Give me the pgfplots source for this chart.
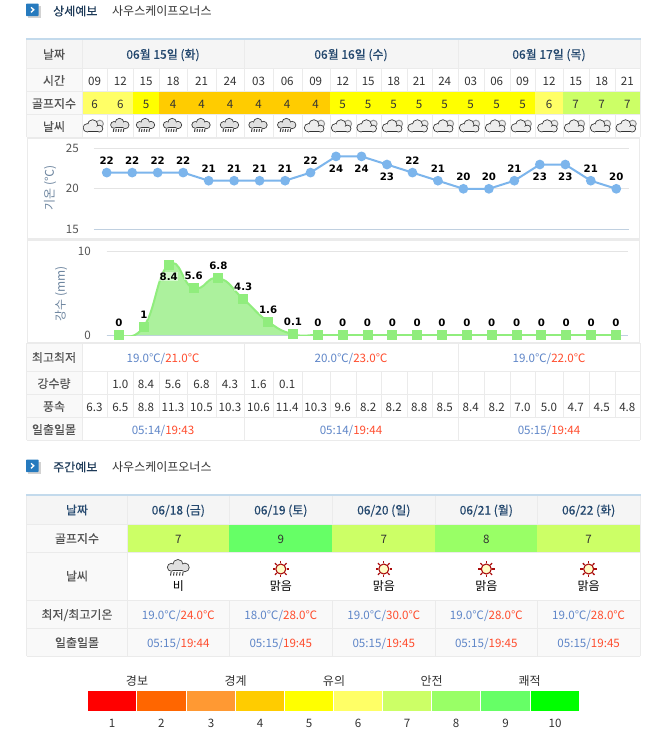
\documentclass[border=0pt]{standalone}
\usepackage{fontspec}
\usepackage{pgfplots}
\usepackage{pgfplotstable}
\pgfplotsset{compat=1.18}
\setmainfont{Noto Sans CJK KR}
\newfontfamily\semi[FakeBold=0.35]{Noto Sans CJK KR}
\newfontfamily\lab[BoldFont={DejaVu Sans Bold}]{DejaVu Sans}
\definecolor{g1}{HTML}{FF0000}\definecolor{g2}{HTML}{FF6600}\definecolor{g3}{HTML}{FF9933}
\definecolor{g4}{HTML}{FFCC00}\definecolor{g5}{HTML}{FFFF00}\definecolor{g6}{HTML}{FFFF66}
\definecolor{g7}{HTML}{CCFF66}\definecolor{g8}{HTML}{99FF66}\definecolor{g9}{HTML}{66FF66}
\definecolor{g10}{HTML}{00FF00}
\definecolor{bd}{HTML}{EBEBEB}\definecolor{hd}{HTML}{F5F5F5}\definecolor{hd2}{HTML}{F9F9F9}
\definecolor{txt}{HTML}{333333}\definecolor{lbl}{HTML}{555555}\definecolor{navy}{HTML}{24486E}
\definecolor{lo}{HTML}{5F86C8}\definecolor{hi}{HTML}{FF4D2E}\definecolor{topb}{HTML}{C3DAEC}
\definecolor{axl}{HTML}{C0D0E0}\definecolor{grd}{HTML}{E4E4E4}\definecolor{ylb}{HTML}{6E86A0}
\definecolor{ln1}{HTML}{7CB5EC}\definecolor{ln2}{HTML}{90ED7D}\definecolor{ar2}{HTML}{ACF19D}
\newcommand\fh{\fontsize{12}{14}\selectfont}
\newcommand\fn{\fontsize{11.6}{14}\selectfont}
\newcommand\tw[2]{{\color{lo}#1/}{\color{hi}#2}}
\pgfplotstableread{
x y lab sh
0 22 22 12
1 22 22 12
2 22 22 12
3 22 22 12
4 21 21 12
5 21 21 12
6 21 21 12
7 21 21 12
8 22 22 12
9 24 24 -12
10 24 24 -12
11 23 23 -12
12 22 22 12
13 21 21 12
14 20 20 12
15 20 20 12
16 21 21 12
17 23 23 -12
18 23 23 -12
19 21 21 12
20 20 20 12
}\temptab
\pgfplotstableread{
x y lab sh
0 0 0 12
1 1 1 12
2 8.4 8.4 -12
3 5.6 5.6 12
4 6.8 6.8 12
5 4.3 4.3 12
6 1.6 1.6 12
7 0.1 0.1 12
8 0 0 12
9 0 0 12
10 0 0 12
11 0 0 12
12 0 0 12
13 0 0 12
14 0 0 12
15 0 0 12
16 0 0 12
17 0 0 12
18 0 0 12
19 0 0 12
20 0 0 12
}\raintab
\newcommand\cloudblob[3]{%
  \foreach \p/\q/\rr in {#1}{\draw[#2,line width=1.6pt] (\p,\q) circle (\rr);}%
  \foreach \p/\q/\rr in {#1}{\fill[#3] (\p,\q) circle (\rr);}%
}
\newcommand\cloudsun[2]{\begin{scope}[shift={({#1},{#2})}]
  \draw[gray!80,fill=gray!15,line width=1pt] (6.3,-2.2) circle (3.6);
  \draw[black!80,line width=1.6pt,line cap=round] (-6,5.6)--(5.5,5.6);
  \cloudblob{-6.2/1.8/3.7,-0.8/-1.2/4.6,5.8/2.6/3}{black!80}{white!93!black}
  \fill[white!93!black] (-6.2,1)rectangle(5.8,5.3);
\end{scope}}
\newcommand\cloudrain[3][1]{\begin{scope}[shift={({#2},{#3})},scale=#1]
  \draw[black!78,line width=1.4pt,line cap=round] (-6,2.2)--(6,2.2);
  \cloudblob{-5.8/-0.6/2.9,-0.3/-2.8/3.9,5.5/-0.5/3.2}{black!78}{white!88!black}
  \fill[white!88!black] (-5.8,-1)rectangle(5.8,1.9);
  \foreach \dd in {-6,-3.5,-1,1.5,4}{\draw[black!75,line width=1pt] (\dd,3.4)--(\dd-.5,6.3);}
\end{scope}}
\newcommand\sunicon[2]{\begin{scope}[shift={({#1},{#2})}]
  \foreach \a in {0,45,...,315}{\draw[red!65!black!95,line width=1.3pt] (\a:5.8)--(\a:8.2);}
  \draw[red!65!black!95,line width=1.1pt,fill=yellow!22] (0,0) circle (5);
\end{scope}}
\newcommand\bullicon[2]{%
  \fill[gray!35] (#1+2,#2+2) rectangle (#1+14.5,#2+14.5);
  \fill[rounded corners=.8pt,fill=blue!45!cyan!70!black!85] (#1,#2) rectangle (#1+12.6,#2+12.6);
  \draw[white,line width=1.3pt] (#1+5,#2+3.8)--(#1+7.8,#2+6.3)--(#1+5,#2+8.8);
}
\begin{document}
\begin{tikzpicture}
\begin{scope}[x=1pt,y=-1pt,every node/.style={inner sep=0pt,anchor=base}]
\path[use as bounding box,fill=white] (0,0) rectangle (668,742);
% ---- section headers
\bullicon{26}{3.5}
\node[anchor=base west,navy!80!black] at (53,15.5) {\fh\semi 상세예보};
\node[anchor=base west,txt] at (112,15.5) {\fh 사우스케이프오너스};
\bullicon{26}{459.5}
\node[anchor=base west,navy!80!black] at (53,471.5) {\fh\semi 주간예보};
\node[anchor=base west,txt] at (112,471.5) {\fh 사우스케이프오너스};
% ---- detail table: backgrounds
\fill[hd] (26.5,40) rectangle (640,68.3);
\fill[hd2] (26.5,68.3) rectangle (81.7,137.3);
\fill[hd2] (26.5,343.3) rectangle (81.7,440.3);
\foreach \l/\r/\tm/\g/\rn/\w/\ic in {
 81.7/107.3/09/6//6.3/s,107.3/133.3/12/6/1.0/6.5/r,133.3/158.7/15/5/8.4/8.8/r,
 158.7/187.3/18/4/5.6/11.3/r,187.3/215.7/21/4/6.8/10.5/r,215.7/244.3/24/4/4.3/10.3/r,
 244.3/272.7/03/4/1.6/10.6/r,272.7/301.7/06/4/0.1/11.4/r,301.7/329.7/09/4//10.3/s,
 329.7/355.7/12/5//9.6/s,355.7/380.7/15/5//8.2/s,380.7/406.7/18/5//8.2/s,
 406.7/431.7/21/5//8.8/s,431.7/457.7/24/5//8.5/s,457.7/483.7/03/5//8.4/s,
 483.7/509.7/06/5//8.2/s,509.7/535.3/09/5//7.0/s,535.3/562.7/12/6//5.0/s,
 562.7/588.7/15/7//4.7/s,588.7/614.7/18/7//4.5/s,614.7/640/21/7//4.8/s}{
  \fill[g\g] (\l,91.3) rectangle (\r,114.3);
  \node[txt] at ({(\l+\r)/2},85) {\fn\tm};
  \node[txt] at ({(\l+\r)/2},108) {\fn\g};
  \node[txt] at ({(\l+\r)/2},388) {\fn\rn};
  \node[txt] at ({(\l+\r)/2},411) {\fn\w};
  \if s\ic\cloudsun{(\l+\r)/2-1}{126}\else\cloudrain{(\l+\r)/2-.5}{125.5}\fi
  \draw[bd] (\r,68.3)--(\r,137.3);
  \draw[bd] (\r,371)--(\r,417.3);
}
% detail table: lines
\foreach \y in {68.3,91.3,114.3,137.3,343.3,371,394.3,417.3,440.3}{\draw[bd] (26.5,\y)--(640,\y);}
\foreach \x in {26.5,81.7,640}{\draw[bd] (\x,40)--(\x,137.3);\draw[bd] (\x,343.3)--(\x,440.3);}
\foreach \x in {244.3,457.7}{\draw[bd] (\x,40)--(\x,68.3);\draw[bd] (\x,343.3)--(\x,371);\draw[bd] (\x,417.3)--(\x,440.3);}
\draw[bd,line width=1.6pt] (27.3,137.8) rectangle (639.3,239);
\draw[bd,line width=1.6pt] (27.3,240) rectangle (639.3,343);
\fill[topb] (26,38) rectangle (640.5,40.4);
% detail: text
\foreach \t/\y in {날짜/58.8,시간/85,골프지수/108,날씨/131,최고최저/362,강수량/388,풍속/411,일출일몰/434}{
  \node[lbl] at (54,\y) {\fh\semi\t};}
\node[navy] at (163,58.8) {\fh\semi 06월 15일 (화)};
\node[navy] at (351,58.8) {\fh\semi 06월 16일 (수)};
\node[navy] at (549,58.8) {\fh\semi 06월 17일 (목)};
\node at (163,362) {\fn\tw{19.0℃}{21.0℃}};
\node at (351,362) {\fn\tw{20.0℃}{23.0℃}};
\node at (549,362) {\fn\tw{19.0℃}{22.0℃}};
\node at (163,434) {\fn\tw{05:14}{19:43}};
\node at (351,434) {\fn\tw{05:14}{19:44}};
\node at (549,434) {\fn\tw{05:15}{19:44}};
% ---- weekly table
\fill[hd] (26.5,496) rectangle (640,524.3);
\fill[hd2] (26.5,600.3) rectangle (640,656.3);
\fill[hd2] (26.5,524.3) rectangle (127.3,600.3);
\foreach \l/\r/\dm/\dn/\g/\tl/\th/\ss/\ic/\wt in {
 127.3/229.3/06/18 (금)/7/19.0℃/24.0℃/19:44/r/비,
 229.3/332.3/06/19 (토)/9/18.0℃/28.0℃/19:45/s/맑음,
 332.3/435.3/06/20 (일)/7/19.0℃/30.0℃/19:45/s/맑음,
 435.3/537.3/06/21 (월)/8/19.0℃/28.0℃/19:45/s/맑음,
 537.3/640/06/22 (화)/7/19.0℃/28.0℃/19:45/s/맑음}{
  \fill[g\g] (\l,524.3) rectangle (\r,552.3);
  \fill[white] (\l,552.3) rectangle (\r,600.3);
  \node[txt] at ({(\l+\r)/2},543) {\fn\g};
  \node[black] at ({(\l+\r)/2},590) {\fh\wt};
  \node at ({(\l+\r)/2},619) {\fn\tw{\tl}{\th}};
  \node at ({(\l+\r)/2},647) {\fn\tw{05:15}{\ss}};
  \if s\ic\sunicon{(\l+\r)/2}{569}\else\cloudrain[1.2]{(\l+\r)/2}{568}\fi
  \node[navy] at ({(\l+\r)/2},514.5) {\fh\semi\dm/\dn};
  \draw[bd] (\r,496)--(\r,656.3);
}
\foreach \y in {524.3,552.3,600.3,628.3,656.3}{\draw[bd] (26.5,\y)--(640,\y);}
\foreach \x in {26.5,127.3}{\draw[bd] (\x,496)--(\x,656.3);}
\fill[topb] (26,494) rectangle (640.5,496.2);
\foreach \t/\y in {골프지수/543,날씨/580.5,일출일몰/647}{
  \node[lbl] at (77,\y) {\fh\semi\t};}
\node[lbl] at (77,619) {\fh\semi 최저/최고기온};
\node[navy] at (77,514.5) {\fh\semi 날짜};
% ---- scale legend
\foreach \l/\r/\g in {88/136/1,136.8/186/2,187/235/3,236/284/4,285/333/5,334/382.3/6,383/431/7,432/480/8,481/530/9,531/579/10}{
  \fill[g\g] (\l,691) rectangle (\r,711);
  \node[txt] at ({(\l+\r)/2},727) {\fn\g};
}
\foreach \t/\x in {경보/137,경계/235.7,유의/334,안전/431.7,쾌적/529.7}{
  \node[txt] at (\x,685.5) {\fh\t};}
\end{scope}
% ---- temperature chart
\begin{axis}[at={(94pt,-229.3pt)},anchor=south west,scale only axis,width=535pt,height=81pt,
  xmin=-0.5,xmax=20.5,ymin=15,ymax=25,ytick={15,20,25},xtick=\empty,
  axis x line*=bottom,axis y line*=left,
  x axis line style={draw=axl,line width=.8pt},y axis line style={draw=none},
  ymajorgrids,grid style={draw=grd,line width=.8pt},major tick length=0pt,clip=false,
  /pgf/number format/assume math mode=true,
  yticklabel style={font=\fn,text=lbl,inner sep=0pt,xshift=-15pt},
  ylabel={기온 (℃)},ylabel style={font=\fh,text=ylb,at={(axis description cs:-0.082,0.51)},anchor=center,rotate=0},
]
\addplot[ln1,line width=2pt,mark=*,mark size=3.8pt,mark options={fill=ln1,draw=none},
  point meta=explicit symbolic,nodes near coords,
  visualization depends on={\thisrow{sh} \as \shft},
  every node near coord/.append style={anchor=center,yshift=\shft pt,font=\lab\fontsize{10.2}{12}\selectfont\bfseries,text=black,inner sep=.4pt,fill=white,fill opacity=.5,text opacity=1}]
  table[x=x,y=y,meta=lab]{\temptab};
\end{axis}
% ---- rain chart
\begin{axis}[at={(106.6pt,-335pt)},anchor=south west,scale only axis,width=521.8pt,height=83.7pt,
  xmin=-0.5,xmax=20.5,ymin=0,ymax=10,ytick={0,10},xtick=\empty,
  axis x line*=bottom,axis y line*=left,
  x axis line style={draw=axl,line width=.8pt},y axis line style={draw=none},
  ymajorgrids,grid style={draw=grd,line width=.8pt},major tick length=0pt,clip mode=individual,
  /pgf/number format/assume math mode=true,
  yticklabel style={font=\fn,text=lbl,inner sep=0pt,xshift=-15.6pt},
  ylabel={강수 (mm)},ylabel style={font=\fh,text=ylb,at={(axis description cs:-0.0874,0.49)},anchor=center,rotate=0},
]
\addplot[draw=none,fill=ar2,smooth,tension=.85] table[x=x,y=y]{\raintab} \closedcycle;
\addplot[ln2,line width=2pt,smooth,tension=.85,mark=square*,mark size=4pt,mark options={fill=ln2,draw=none},
  point meta=explicit symbolic,nodes near coords,
  visualization depends on={\thisrow{sh} \as \shft},
  every node near coord/.append style={anchor=center,yshift=\shft pt,font=\lab\fontsize{10.2}{12}\selectfont\bfseries,text=black,inner sep=.4pt,fill=white,fill opacity=.5,text opacity=1}]
  table[x=x,y=y,meta=lab]{\raintab};
\end{axis}
\end{tikzpicture}
\end{document}
